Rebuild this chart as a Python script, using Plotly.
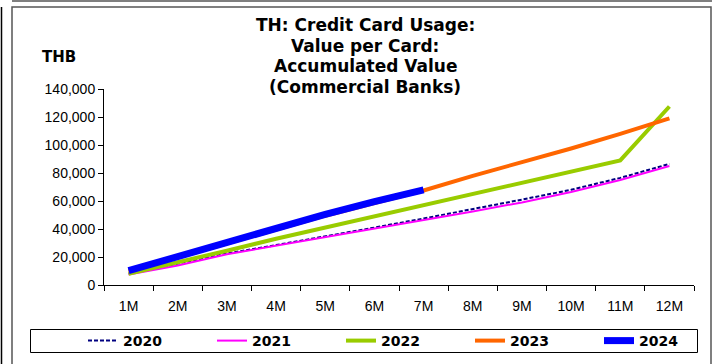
import plotly.graph_objects as go

# Accumulated value per card, THB, by month of the year
months = ["1M", "2M", "3M", "4M", "5M", "6M", "7M", "8M", "9M", "10M", "11M", "12M"]
v2020 = [8000, 15000, 22500, 28500, 34500, 41000, 47500, 54000, 61000, 68000, 76500, 86500]
v2021 = [7500, 14000, 22000, 28000, 34000, 40000, 46000, 52500, 59000, 66500, 75000, 85000]
v2022 = [8000, 16000, 24500, 33000, 41000, 49000, 56500, 65000, 73000, 81000, 89000, 127500]
v2023 = [9800, 19800, 30000, 40000, 49500, 58500, 67500, 78000, 87500, 97500, 108000, 119000]
v2024 = [10200, 20500, 31000, 41000, 50500, 59500, 68000]

y_ticks = [0, 20000, 40000, 60000, 80000, 100000, 120000, 140000]
y_tick_text = ["0", "20,000", "40,000", "60,000", "80,000", "100,000", "120,000", "140,000"]

FONT = "Arial, Liberation Sans, sans-serif"
BOLD_FONT = "DejaVu Sans, Arial, sans-serif"
W, H = 712, 364
L, R, T, B = 104, 18, 89, 79
PW, PH = W - L - R, H - T - B


def px_x(x):
    return (x - L) / PW


def px_y(y):
    return (H - B - y) / PH


series = [
    ("2020", v2020, dict(color="#000080", width=2, dash="4px,2px")),
    ("2021", v2021, dict(color="#FF00FF", width=2)),
    ("2022", v2022, dict(color="#99CC00", width=4)),
    ("2023", v2023, dict(color="#FF6600", width=4)),
    ("2024", v2024, dict(color="#0000FF", width=7)),
]

fig = go.Figure()
for name, vals, line in series:
    fig.add_trace(go.Scatter(x=months[:len(vals)], y=vals, name="<b>%s</b>" % name,
                             mode="lines", line=line))

shapes = [
    # chart frame
    dict(type="rect", xref="paper", yref="paper",
         x0=px_x(12), x1=px_x(711), y0=px_y(7), y1=px_y(366),
         line=dict(color="#555555", width=1.5)),
    dict(type="line", xref="paper", yref="paper",
         x0=px_x(1.5), x1=px_x(1.5), y0=px_y(7), y1=px_y(366),
         line=dict(color="#000000", width=1.5)),
    dict(type="line", xref="paper", yref="paper",
         x0=px_x(12), x1=px_x(712), y0=px_y(1), y1=px_y(1),
         line=dict(color="#555555", width=1.5)),
    # legend box
    dict(type="rect", xref="paper", yref="paper",
         x0=px_x(30.5), x1=px_x(697.5), y0=px_y(329.5), y1=px_y(352.5),
         line=dict(color="#000000", width=1)),
]

title_lines = ["TH: Credit Card Usage:", "Value per Card:",
               "Accumulated Value", "(Commercial Banks)"]
annotations = []
for i, t in enumerate(title_lines):
    annotations.append(dict(text="<b>%s</b>" % t, xref="paper", yref="paper",
                            x=px_x(365), y=px_y(25 + i * 20.5), showarrow=False,
                            xanchor="center", yanchor="middle",
                            font=dict(family=BOLD_FONT, size=17, color="#000000")))
annotations.append(dict(text="<b>THB</b>", xref="paper", yref="paper",
                        x=px_x(40), y=px_y(57), showarrow=False,
                        xanchor="left", yanchor="middle",
                        font=dict(family=BOLD_FONT, size=15, color="#000000")))

fig.update_layout(
    width=W, height=H,
    margin=dict(l=L, r=R, t=T, b=B, autoexpand=False),
    paper_bgcolor="white", plot_bgcolor="white",
    font=dict(family=FONT, size=14, color="#000000"),
    showlegend=True,
    legend=dict(orientation="h", x=px_x(83), y=px_y(341), xanchor="left",
                yanchor="middle", bgcolor="rgba(0,0,0,0)", borderwidth=0,
                entrywidth=84, entrywidthmode="pixels",
                font=dict(family=BOLD_FONT, size=14, color="#000000"),
                itemwidth=30, traceorder="normal"),
    shapes=shapes,
    annotations=annotations,
    xaxis=dict(type="category", categoryorder="array", categoryarray=months,
               range=[-0.5, 11.5], showgrid=False, zeroline=False,
               showline=True, linecolor="#000000", linewidth=1,
               ticks="outside", tickson="boundaries", ticklen=5,
               tickcolor="#000000", ticklabelstandoff=8, automargin=False,
               tickfont=dict(family=FONT, size=14)),
    yaxis=dict(range=[0, 140000], tickvals=y_ticks, ticktext=y_tick_text,
               showgrid=False, zeroline=False, showline=True, automargin=False,
               linecolor="#000000", linewidth=1, ticks="outside", ticklen=5,
               tickcolor="#000000", tickfont=dict(family=FONT, size=14)),
)

fig.write_html("out.html")
